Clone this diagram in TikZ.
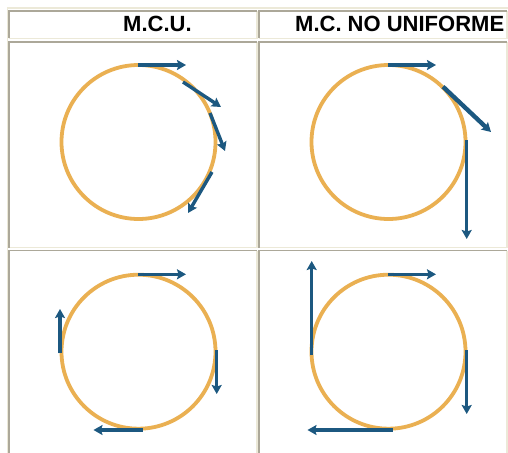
\documentclass[tikz,border=0pt]{standalone}
\usepackage{fontspec}
\setmainfont{Liberation Sans}
\usetikzlibrary{arrows.meta}
\definecolor{ringorange}{RGB}{234,176,82}
\definecolor{vecblue}{RGB}{28,88,128}
\definecolor{edgedark}{RGB}{172,168,153}
\definecolor{edgelight}{RGB}{236,233,216}
\tikzset{
  ring/.style={draw=ringorange, line width=3.8pt},
  vec/.style={-{Stealth[length=9pt,width=10pt,inset=1.5pt]}, vecblue, line width=3.4pt},
  bigvec/.style={vec, line width=4.4pt},
  darkedge/.style={edgedark, line width=1.8pt},
  lightedge/.style={edgelight, line width=1.8pt},
  headtxt/.style={font=\bfseries\fontsize{22}{26}\selectfont, anchor=base west, inner sep=0pt}
}
\begin{document}
\begin{tikzpicture}[x=1pt, y=-1pt]
        \clip (0,0) rectangle (508,452);
        \fill[white] (0,0) rectangle (508,452);
        % table frame
        \draw[lightedge] (7.5,470) |- (530,8.3);
        \foreach \xa/\xb in {9.2/257, 259.2/506.7}
          \foreach \ya/\yb in {10.8/38.5, 41.7/247.5, 250.5/470} {
            \draw[lightedge] (\xa,\yb) -| (\xb,\ya);
            \draw[darkedge] (\xa,\yb) |- (\xb,\ya);
          }
        \node[headtxt] (mcu) at (123,31.7) {M.C.U.};
        \node[headtxt] (mcnu) at (295,31.7) {M.C. NO UNIFORME};
        % circles
        \draw[ring] (138.5,142) circle[radius=77pt];
        \draw[ring] (388.5,142) circle[radius=77pt];
        \draw[ring] (138.5,351.7) circle[radius=77pt];
        \draw[ring] (388.5,351.7) circle[radius=77pt];
        % M.C.U., top
        \draw[vec] (138,65) -- (186,65);
        \draw[vec] (183,82) -- (221,107);
        \draw[vec] (210,113) -- (225,151);
        \draw[vec] (212,172) -- (188,213);
        % M.C. no uniforme, top
        \draw[vec] (388,65) -- (436,65);
        \draw[bigvec] (443,86.7) -- (491,132);
        \draw[vec] (466.7,140) -- (466.7,239);
        % M.C.U., bottom
        \draw[vec] (138.3,274.3) -- (186,274.3);
        \draw[vec] (216.7,350) -- (216.7,394);
        \draw[vec] (142.7,430) -- (93.5,430);
        \draw[vec] (60,353.3) -- (60,309);
        % M.C. no uniforme, bottom
        \draw[vec] (388.3,274.3) -- (436,274.3);
        \draw[vec] (466.7,350) -- (466.7,414);
        \draw[vec] (392.7,430) -- (307.5,430);
        \draw[vec] (311.7,355) -- (311.7,261);
\end{tikzpicture}
\end{document}
